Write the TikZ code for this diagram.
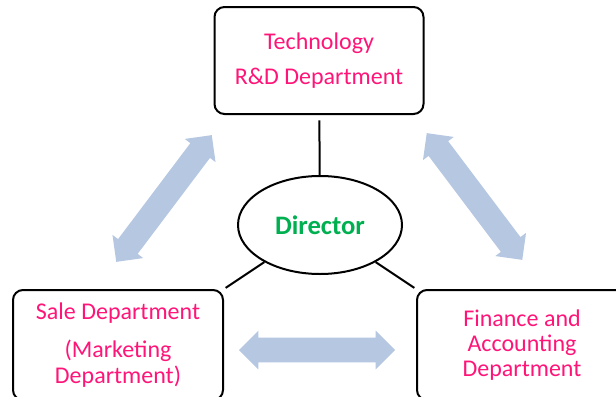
\documentclass[tikz,border=0pt]{standalone}
\usepackage{fontspec}
\setmainfont{Carlito}
\usetikzlibrary{shapes.geometric,shapes.arrows}
\definecolor{deptpink}{RGB}{255,20,120}
\definecolor{dirgreen}{RGB}{0,176,80}
\definecolor{linkblue}{RGB}{182,199,225}

\begin{document}
\begin{tikzpicture}[x=0.75pt,y=0.75pt,yscale=-1,xscale=1,
  deptbox/.style={draw, line width=1.5pt, rounded corners=7.5pt, minimum width=157.5pt, minimum height=82.5pt, align=center, text=deptpink, font=\fontsize{18}{19}\selectfont},
  linkarrow/.style={double arrow, fill=linkblue, draw=none, inner sep=9pt, minimum width=28.5pt, double arrow head extend=5.25pt, minimum height=119pt},
  tie/.style={line width=1.5pt}]
\useasboundingbox (0,0) rectangle (616,396);

%Double Arrows
\node [linkarrow, rotate=53] (saletech) at (164,198.5) {};
\node [linkarrow, rotate=-53] (techfin) at (474.5,196.5) {};
\node [linkarrow, minimum height=117pt] (salefin) at (317,350) {};

%Rounded Rect
\node [deptbox, minimum width=156.75pt, minimum height=80.25pt, font=\fontsize{18}{26}\selectfont] (tech) at (319,60.5) {Technology\\R\&D Department};
%Rounded Rect
\node [deptbox, font=\fontsize{18}{20}\selectfont] (sale) at (118,345) {Sale Department\\[8.5pt](Marketing\\Department)};
%Rounded Rect
\node [deptbox] (fin) at (522,345) {Finance and\\Accounting\\Department};
%Shape: Ellipse
\node [ellipse, draw, line width=1.5pt, minimum width=123pt, minimum height=73.5pt, inner sep=0pt, text=dirgreen, font=\bfseries\fontsize{20}{24}\selectfont] (director) at (320,225) {Director};

%Straight Lines
\draw [tie, shorten <=4pt] (tech) -- (director);
\draw [tie, shorten >=1.5pt] (director) -- (sale.north east);
\draw [tie, shorten >=1.5pt] (director) -- (fin.north west);

\end{tikzpicture}
\end{document}
